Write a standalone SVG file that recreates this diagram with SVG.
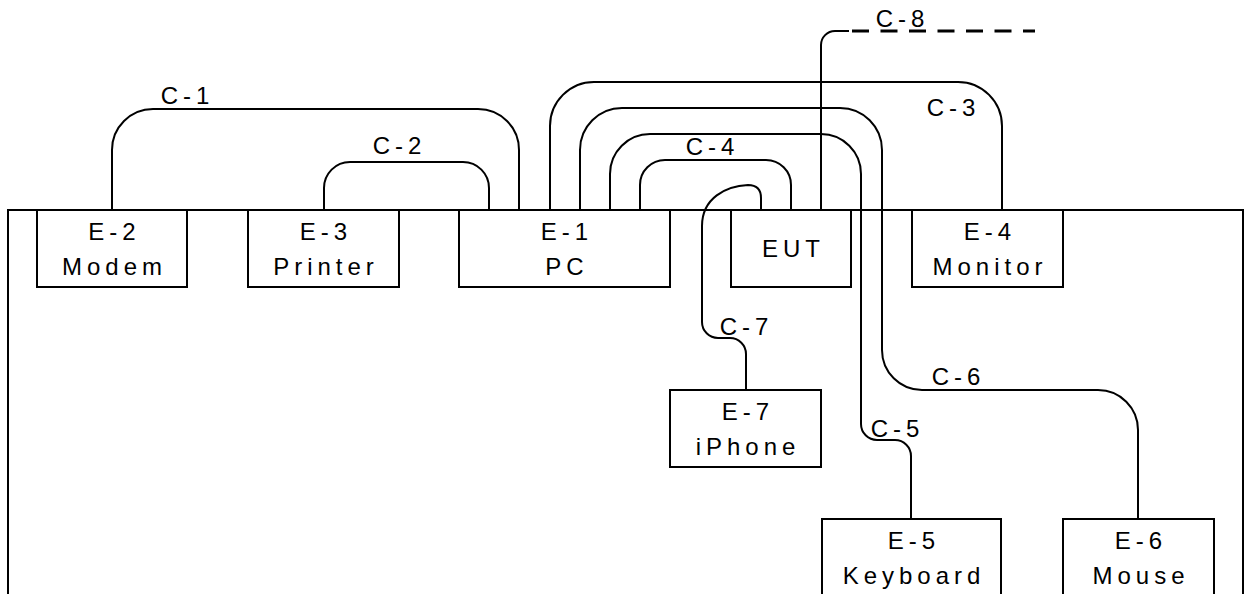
<svg xmlns="http://www.w3.org/2000/svg" width="1245" height="594" viewBox="0 0 1245 594">
<style>
.box{fill:#fff;stroke:#000;stroke-width:2}
.wire{fill:none;stroke:#000;stroke-width:2}
.dash{fill:none;stroke:#000;stroke-width:3;stroke-dasharray:17 11.5}
text{font-family:"Liberation Sans",Arial,sans-serif;font-size:24px;letter-spacing:5px;fill:#000;text-anchor:middle}
</style>
<rect x="0" y="0" width="1245" height="594" fill="#fff"/>
<path class="wire" d="M8,600 V210 H1243 V600"/>
<g id="E-2"><rect class="box" x="37" y="210" width="150" height="77"/><text x="114.5" y="240">E-2</text><text x="114.5" y="275">Modem</text></g>
<g id="E-3"><rect class="box" x="248" y="210" width="151" height="77"/><text x="326" y="240">E-3</text><text x="326" y="275">Printer</text></g>
<g id="E-1"><rect class="box" x="459" y="210" width="211" height="77"/><text x="567" y="240">E-1</text><text x="567" y="275">PC</text></g>
<g id="EUT"><rect class="box" x="731" y="210" width="120" height="77"/><text x="793.5" y="257">EUT</text></g>
<g id="E-4"><rect class="box" x="912" y="210" width="151" height="77"/><text x="990" y="240">E-4</text><text x="990" y="275">Monitor</text></g>
<g id="E-7"><rect class="box" x="670" y="390" width="151" height="77"/><text x="748" y="420">E-7</text><text x="748" y="455">iPhone</text></g>
<g id="E-5"><rect class="box" x="822" y="519" width="179" height="90"/><text x="914" y="549">E-5</text><text x="914" y="584">Keyboard</text></g>
<g id="E-6"><rect class="box" x="1063" y="519" width="151" height="90"/><text x="1141" y="549">E-6</text><text x="1141" y="584">Mouse</text></g>
<g id="connectors">
<path class="wire" d="M112,210 V150 A41,41 0 0 1 153,109 H478 A41,41 0 0 1 519,150 V210"/>
<path class="wire" d="M324,210 V188 A26,26 0 0 1 350,162 H463 A26,26 0 0 1 489,188 V210"/>
<path class="wire" d="M550,210 V126 A44,44 0 0 1 594,82 H958 A44,44 0 0 1 1002,126 V210"/>
<path class="wire" d="M580,210 V150 A42,42 0 0 1 622,108 H840 A42,42 0 0 1 882,150 V350 A40,40 0 0 0 922,390 H1098 A40,40 0 0 1 1138,430 V519"/>
<path class="wire" d="M610,210 V174 A40,40 0 0 1 650,134 H821 A40,40 0 0 1 861,174 V424 A16,16 0 0 0 877,440 H895 A16,16 0 0 1 911,456 V519"/>
<path class="wire" d="M640,210 V185 A25,25 0 0 1 665,160 H766 A25,25 0 0 1 791,185 V210"/>
<path class="wire" d="M761,210 V198 Q761,185 748,185 C726,186 702,198 702,226 V322 A16,16 0 0 0 718,338 H730 A16,16 0 0 1 746,354 V390"/>
<path class="wire" d="M821,210 V45 A14,14 0 0 1 835,31 H849"/>
<path class="dash" d="M852,31 H1035"/>
<text x="187.5" y="104">C-1</text>
<text x="399.5" y="154">C-2</text>
<text x="953.5" y="116">C-3</text>
<text x="712.5" y="155">C-4</text>
<text x="897.5" y="437">C-5</text>
<text x="958.5" y="385">C-6</text>
<text x="746.5" y="335">C-7</text>
<text x="902.5" y="27">C-8</text>
</g>
</svg>
